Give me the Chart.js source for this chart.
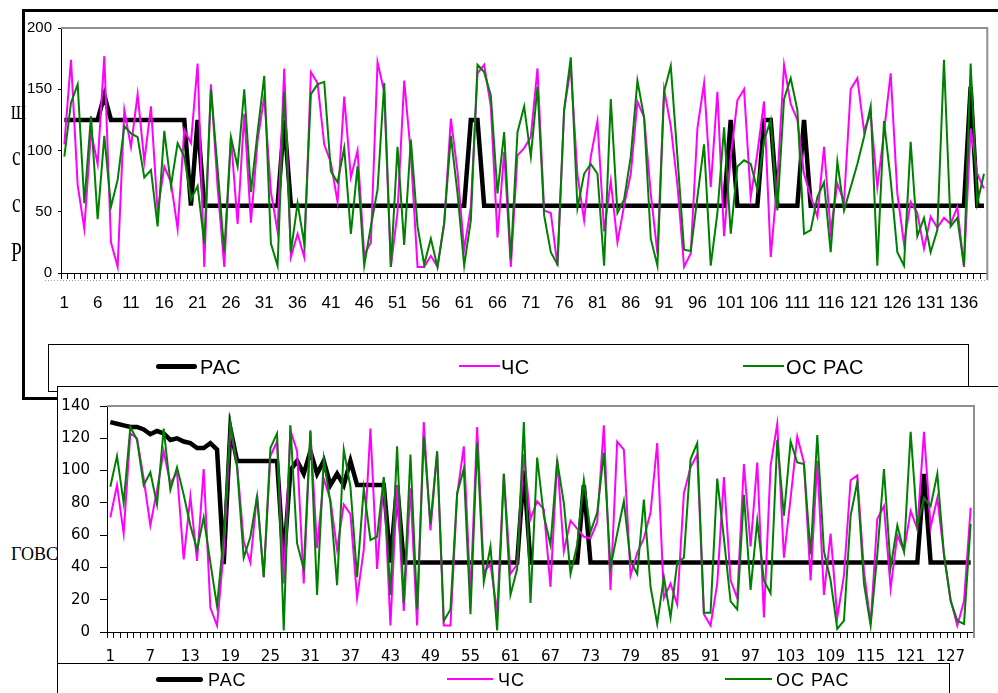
<!DOCTYPE html>
<html><head><meta charset="utf-8">
<script src="https://cdn.jsdelivr.net/npm/chart.js@4.4.1/dist/chart.umd.min.js"></script>
<style>
html,body{margin:0;padding:0;width:998px;height:693px;overflow:hidden;background:#fff;}
.bgtext{position:absolute;z-index:5;font-family:"Liberation Serif","Times New Roman",serif;color:#000;line-height:1;white-space:nowrap;transform-origin:0 0;}
.narrow{transform:scaleX(0.72);}
#frame1{position:absolute;left:22px;top:9px;width:1000px;height:391px;box-sizing:border-box;border:3px solid #000;background:#fff;z-index:1;}
#frame2{position:absolute;left:57px;top:386px;width:970px;height:330px;box-sizing:border-box;border:1px solid #000;background:#fff;z-index:2;}
canvas{position:absolute;left:0;top:0;}
.legend{position:absolute;box-sizing:border-box;border:1px solid #000;background:transparent;}
.lg-line{position:absolute;}
.lg-text{position:absolute;font-family:"Liberation Sans",Arial,sans-serif;color:#000;line-height:1;white-space:nowrap;}
</style>
</head><body>
<div class="bgtext narrow" style="left:11px;top:97px;font-size:27px;">ш</div>
<div class="bgtext narrow" style="left:12px;top:143px;font-size:27px;">с</div>
<div class="bgtext narrow" style="left:12px;top:190px;font-size:27px;">с</div>
<div class="bgtext narrow" style="left:11px;top:239px;font-size:27px;">Р</div>
<div class="bgtext" style="left:11px;top:545px;font-size:18px;z-index:0;">ГОВС</div>

<div id="frame1">
  <canvas id="c1" width="973" height="385"></canvas>
  <div class="legend" id="leg1" style="left:23px;top:332px;width:921px;height:48px;"></div>
</div>
<div id="frame2">
  <canvas id="c2" width="940" height="306"></canvas>
  <div class="legend" id="leg2" style="left:-1px;top:276px;width:893px;height:60px;"></div>
</div>

<script>
// ---------- DATA ----------
const seriesNames = ['РАС', 'ЧС', 'ОС РАС'];

const topCategories = Array.from({length: 139}, (_, i) => String(i + 1));
const topTickLabels = ['1','6','11','16','21','26','31','36','41','46','51','56','61','66','71','76','81','86','91','96','101','106','111','116','121','126','131','136'];
const topRAS = [
 125,125,125,125,125,125,145,125,125,125,
 125,125,125,125,125,125,125,125,125,55,
 125,55,55,55,55,55,55,55,55,55,
 55,55,55,125,55,55,55,55,55,55,
 55,55,55,55,55,55,55,55,55,55,
 55,55,55,55,55,55,55,55,55,55,
 55,125,125,55,55,55,55,55,55,55,
 55,55,55,55,55,55,55,55,55,55,
 55,55,55,55,55,55,55,55,55,55,
 55,55,55,55,55,55,55,55,55,55,
 125,55,55,55,55,125,125,55,55,55,
 55,125,55,55,55,55,55,55,55,55,
 55,55,55,55,55,55,55,55,55,55,
 55,55,55,55,55,55,152,55,55];
const topCHS = [
 105,174,72,36,115,89,177,25,5,133,
 103,146,91,136,50,87,74,36,117,106,
 171,5,154,70,5,111,40,130,41,108,
 144,66,34,167,13,32,13,164,155,105,
 90,58,144,78,100,15,25,172,148,5,
 50,157,97,5,5,14,5,40,126,83,
 19,54,163,170,136,29,99,5,96,102,
 111,167,51,49,6,133,168,80,43,95,
 124,34,75,25,55,81,140,127,65,16,
 150,120,72,5,16,118,155,70,148,30,
 95,141,150,62,98,140,13,75,170,138,
 125,81,62,46,103,34,73,58,150,159,
 116,130,70,115,163,65,24,58,49,20,
 46,37,45,40,54,5,118,81,69];
const topOSRAS = [
 95,139,154,57,128,44,112,54,76,120,
 114,111,78,84,38,116,71,106,95,60,
 71,24,150,85,17,111,87,150,66,115,
 161,24,6,148,17,57,24,146,154,156,
 83,74,102,32,87,6,38,68,155,5,
 103,23,109,38,7,28,5,41,112,65,
 6,43,170,164,145,65,115,11,115,136,
 95,152,47,17,7,133,176,53,81,89,
 81,6,142,49,60,95,157,127,28,6,
 148,169,95,19,18,62,105,6,49,119,
 32,87,92,89,68,108,125,51,142,159,
 133,32,35,62,74,17,91,51,70,89,
 111,136,6,124,76,17,6,107,30,45,
 17,35,174,38,45,6,171,57,81];

const bottomCategories = Array.from({length: 130}, (_, i) => String(i + 1));
const bottomTickLabels = ['1','7','13','19','25','31','37','43','49','55','61','67','73','79','85','91','97','103','109','115','121','127'];
const bottomRAS = [
 130,129,128,127,127,125.5,122.5,124.5,123,119,
 120,118,117,114,114,117,113,42,126,106,
 106,106,106,106,106,106,43,100,106,98,
 112,98,106,91,98,91,106,91,91,91,
 91,91,43,91,43,43,43,43,43,43,
 43,43,43,43,43,43,43,43,43,43,
 43,43,100,43,43,43,43,43,43,43,
 43,91,43,43,43,43,43,43,43,43,
 43,43,43,43,43,43,43,43,43,43,
 43,43,43,43,43,43,43,43,43,43,
 43,43,43,43,43,43,43,43,43,43,
 43,43,43,43,43,43,43,43,43,43,
 43,43,98,43,43,43,43,43,43,43];
const bottomCHS = [
 71,91,61,123,120,95,66,88,112,92,
 99,45,84,44,101,15,4,50,126,104,
 56,43,85,34,109,118,30,125,112,30,
 124,52,95,82,51,79,73,21,51,126,
 39,95,4,91,13,89,4,130,63,111,
 4,4,85,115,23,127,37,42,12,98,
 36,42,110,70,81,76,28,107,50,69,
 64,59,58,68,128,26,118,113,35,49,
 58,74,117,21,30,17,86,102,110,11,
 4,30,96,32,21,104,53,105,9,103,
 129,46,83,121,105,32,106,23,61,9,
 35,94,97,38,5,70,78,27,60,50,
 75,64,124,65,83,48,20,4,19,77];
const bottomOSRAS = [
 90,109,80,127,119,91,99,79,126,88,
 102,85,66,51,71,43,16,60,130,102,
 46,59,84,34,114,123,1,128,55,39,
 125,23,107,80,29,113,90,34,89,57,
 59,96,23,115,18,110,14,121,67,112,
 7,14,86,101,11,117,31,53,1,98,
 23,39,130,18,108,72,54,106,80,36,
 54,94,62,74,111,40,61,81,44,36,
 82,28,5,34,9,43,46,107,117,12,
 12,95,58,19,14,85,26,69,32,24,
 119,72,118,105,104,48,122,50,32,2,
 7,72,93,30,4,48,101,40,66,50,
 124,66,83,78,98,48,19,7,5,67];

// ---------- STYLE ----------
const seriesStyle = [
  {color: '#000000', width: 4.5},
  {color: '#ff00ff', width: 2},
  {color: '#008000', width: 2}
];

const plotFrame = {
  id: 'plotFrame',
  afterDraw(chart, args, o) {
    const {ctx, chartArea: a} = chart;
    ctx.save();
    ctx.strokeStyle = '#8f8f8f';
    ctx.lineWidth = 2;
    ctx.beginPath();
    ctx.moveTo(a.left, a.top);
    ctx.lineTo(a.right, a.top);
    ctx.lineTo(a.right, a.bottom + (o.extend || 0));
    ctx.stroke();
    if (o.dotted) {
      ctx.strokeStyle = '#9a9a9a';
      ctx.lineWidth = 1;
      ctx.setLineDash([1, 2]);
      ctx.beginPath();
      ctx.moveTo(o.dotted.x0, o.dotted.y + 0.5);
      ctx.lineTo(a.right, o.dotted.y + 0.5);
      ctx.stroke();
    }
    ctx.restore();
  }
};

function makeChart(id, cats, tickSet, series, cfg) {
  const datasets = series.map((d, k) => ({
    label: seriesNames[k],
    data: d,
    borderColor: seriesStyle[k].color,
    backgroundColor: seriesStyle[k].color,
    borderWidth: seriesStyle[k].width,
    pointRadius: 0,
    tension: 0,
    fill: false,
    order: 3 - k
  }));
  return new Chart(document.getElementById(id), {
    type: 'line',
    data: {labels: cats, datasets},
    plugins: [plotFrame],
    options: {
      responsive: false,
      animation: false,
      devicePixelRatio: 1,
      layout: {padding: cfg.padding},
      plugins: {legend: {display: false}, tooltip: {enabled: false}, plotFrame: cfg.frame},
      scales: {
        x: {
          type: 'category',
          offset: true,
          grid: {offset: true, drawOnChartArea: false, tickLength: cfg.xTick, color: '#000', lineWidth: 1},
          border: {color: '#000', width: 1},
          ticks: {
            autoSkip: false, maxRotation: 0, minRotation: 0,
            padding: cfg.xPad, color: '#000', font: cfg.xFont,
            callback: function(v, i) { const l = cats[i]; return tickSet.includes(l) ? l : ''; }
          },
          afterFit: s => { s.height = 40; }
        },
        y: {
          min: 0, max: cfg.yMax,
          grid: {drawOnChartArea: false, tickLength: cfg.yTick, color: '#000'},
          border: {color: '#000', width: 1},
          ticks: {stepSize: cfg.yStep, padding: cfg.yPad, color: '#000', font: cfg.yFont},
          afterFit: s => { s.width = cfg.yWidth; }
        }
      }
    }
  });
}

makeChart('c1', topCategories, topTickLabels, [topRAS, topCHS, topOSRAS], {
  padding: {top: 16, right: 10, left: 0, bottom: 84},
  yMax: 200, yStep: 50, yWidth: 36, yTick: 3, yPad: 6,
  xTick: 6, xPad: 14,
  xFont: {family: '"Liberation Sans", Arial, sans-serif', size: 17},
  yFont: {family: '"Liberation Sans", Arial, sans-serif', size: 15},
  frame: {extend: 7, dotted: {x0: 20, y: 268}}
});

makeChart('c2', bottomCategories, bottomTickLabels, [bottomRAS, bottomCHS, bottomOSRAS], {
  padding: {top: 15, right: 24, left: 0, bottom: 21},
  yMax: 140, yStep: 20, yWidth: 49, yTick: 7, yPad: 10,
  xTick: 6, xPad: 10,
  xFont: {family: '"DejaVu Sans", sans-serif', size: 15},
  yFont: {family: '"DejaVu Sans", sans-serif', size: 15},
  frame: {extend: 6}
});

// ---------- LEGENDS (HTML) ----------
function buildLegend(id, items, font, spacing) {
  const box = document.getElementById(id);
  items.forEach((it, k) => {
    const ln = document.createElement('div');
    ln.className = 'lg-line';
    const h = k === 0 ? 5 : 2.5;
    ln.style.cssText = `left:${it.lx}px;top:${it.ly - h / 2}px;width:${it.lw}px;height:${h}px;background:${seriesStyle[k].color};` + (k === 0 ? 'border-radius:3px;' : '');
    box.appendChild(ln);
    const tx = document.createElement('div');
    tx.className = 'lg-text';
    tx.textContent = seriesNames[k];
    tx.style.cssText = `left:${it.tx}px;top:${it.ty}px;font-size:${font}px;letter-spacing:${spacing}px;`;
    box.appendChild(tx);
  });
}
buildLegend('leg1', [
  {lx: 107, ly: 21, lw: 41, tx: 151, ty: 12},
  {lx: 410, ly: 21, lw: 41, tx: 452, ty: 12},
  {lx: 694, ly: 21, lw: 41, tx: 737, ty: 12}
], 20, 0.5);
buildLegend('leg2', [
  {lx: 98, ly: 15, lw: 47, tx: 150, ty: 7},
  {lx: 389, ly: 15, lw: 46, tx: 440, ty: 7},
  {lx: 667, ly: 15, lw: 47, tx: 718, ty: 7}
], 18, 1);
</script>
</body></html>
